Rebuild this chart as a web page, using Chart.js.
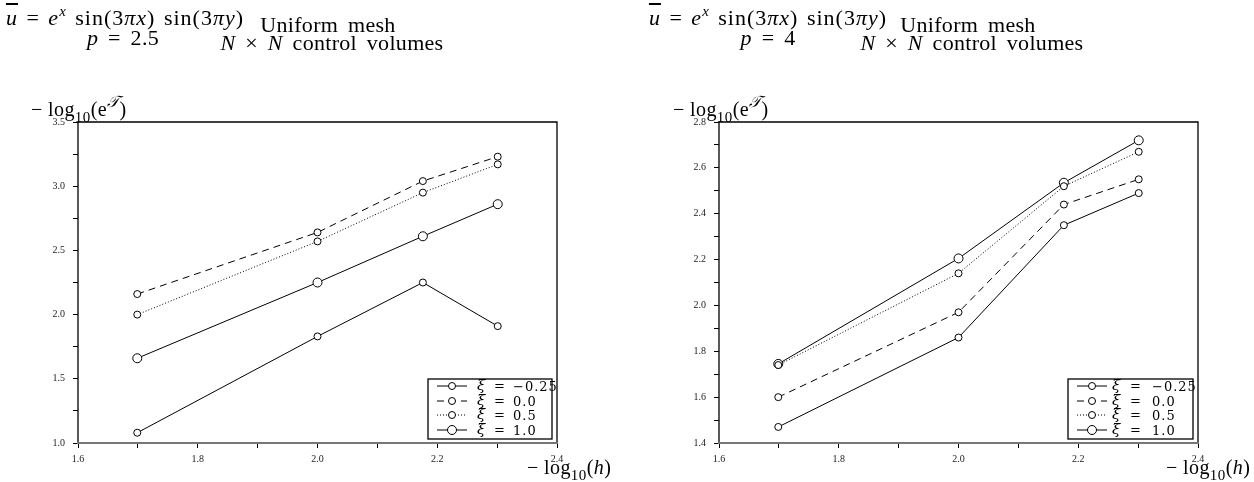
<!DOCTYPE html>
<html>
<head>
<meta charset="utf-8">
<script src="https://cdn.jsdelivr.net/npm/chart.js@4"></script>
<style>
  body { margin: 0; background: #fff; }
  #page { position: relative; width: 1254px; height: 482px; overflow: hidden; font-family: "Liberation Serif", "DejaVu Serif", serif; color: #000; }
  .panel { position: absolute; top: 0; width: 627px; height: 482px; }
  .panel canvas { position: absolute; left: 0; top: 0; }
  .t { position: absolute; font-size: 22px; line-height: 22px; white-space: nowrap; letter-spacing: 0.3px; word-spacing: 4px; }
  .f { letter-spacing: 1px; word-spacing: 2px; }
  .c { transform: translateX(-50%); }
  .ax { position: absolute; font-size: 20px; line-height: 20px; white-space: nowrap; letter-spacing: 0.4px; }
  .ax sub { font-size: 15px; line-height: 0; vertical-align: -6px; }
  .ax sup { font-size: 16px; line-height: 0; vertical-align: 9px; }
  .t sup { font-size: 15px; line-height: 0; vertical-align: 9px; }
</style>
</head>
<body>
<div id="page">
  <div class="panel" style="left:0">
    <canvas id="chart1" width="627" height="482"></canvas>
    <div class="t c f" style="left:125px; top:7px"><span style="text-decoration:overline"><i>u</i></span> = <i>e</i><sup><i>x</i></sup> sin(3<i>πx</i>) sin(3<i>πy</i>)</div>
    <div class="t c" style="left:123px; top:27px"><i>p</i> = 2.5</div>
    <div class="t c" style="left:328px; top:14px">Uniform mesh</div>
    <div class="t c" style="left:332px; top:32px"><i>N</i> × <i>N</i> control volumes</div>
    <div class="ax" style="left:31px; top:99px">− log<sub>10</sub>(e<sup><i>𝒯</i></sup>)</div>
    <div class="ax" style="left:527px; top:457px">− log<sub>10</sub>(<i>h</i>)</div>
  </div>
  <div class="panel" style="left:627px">
    <canvas id="chart2" width="627" height="482"></canvas>
    <div class="t c f" style="left:141px; top:7px"><span style="text-decoration:overline"><i>u</i></span> = <i>e</i><sup><i>x</i></sup> sin(3<i>πx</i>) sin(3<i>πy</i>)</div>
    <div class="t c" style="left:141px; top:27px"><i>p</i> = 4</div>
    <div class="t c" style="left:341px; top:14px">Uniform mesh</div>
    <div class="t c" style="left:345px; top:32px"><i>N</i> × <i>N</i> control volumes</div>
    <div class="ax" style="left:46px; top:99px">− log<sub>10</sub>(e<sup><i>𝒯</i></sup>)</div>
    <div class="ax" style="left:539px; top:457px">− log<sub>10</sub>(<i>h</i>)</div>
  </div>
</div>
<script>
// mesh sizes N = 50, 100, 150, 200  ->  -log10(h)
var xVals = [1.699, 2.0, 2.176, 2.301];
var xiSymbol = "ξ";
var xiValues = ["−0.25", "0.0", "0.5", "1.0"];

// p = 2.5
var leftM025 = [1.08, 1.83, 2.25, 1.91];
var left00 = [2.16, 2.64, 3.04, 3.23];
var left05 = [2.0, 2.57, 2.95, 3.17];
var left10 = [1.66, 2.25, 2.61, 2.86];

// p = 4
var rightM025 = [1.47, 1.86, 2.35, 2.49];
var right00 = [1.6, 1.97, 2.44, 2.55];
var right05 = [1.74, 2.14, 2.52, 2.67];
var right10 = [1.745, 2.205, 2.535, 2.72];

// axis ranges and label steps
var xRange = [1.6, 2.4];
var xLabelStep = 0.2;
var leftYRange = [1.0, 3.5];
var leftYLabelStep = 0.5;
var rightYRange = [1.4, 2.8];
var rightYLabelStep = 0.2;

var lineStyles = [
  { dash: [], radius: 3.5 },
  { dash: [7, 5], radius: 3.5 },
  { dash: [1, 2], radius: 3.5 },
  { dash: [], radius: 4.5 },
];

function isMajor(v, step) {
  return Math.abs(v / step - Math.round(v / step)) < 1e-6;
}

function toPoints(vals) {
  return xVals.map(function (x, i) {
    return { x: x, y: vals[i] };
  });
}

// box round the plot area
var framePlugin = {
  id: "frame",
  afterDatasetsDraw: function (chart) {
    var a = chart.chartArea;
    var c = chart.ctx;
    c.save();
    c.setLineDash([]);
    c.strokeStyle = "#000";
    c.lineWidth = 1.3;
    c.beginPath();
    c.moveTo(a.left, a.bottom);
    c.lineTo(a.left, a.top);
    c.lineTo(a.right, a.top);
    c.lineTo(a.right, a.bottom);
    c.stroke();
    c.strokeStyle = "#777";
    c.lineWidth = 2;
    c.beginPath();
    c.moveTo(a.left - 1, a.bottom);
    c.lineTo(a.right + 1, a.bottom);
    c.stroke();
    c.restore();
  },
};

// legend drawn inside the plot, bottom right
var legendPlugin = {
  id: "boxLegend",
  afterDraw: function (chart, args, opts) {
    var c = chart.ctx;
    c.save();
    c.fillStyle = "#fff";
    c.fillRect(opts.x0, opts.y0, opts.x1 - opts.x0, opts.y1 - opts.y0);
    c.strokeStyle = "#000";
    c.lineWidth = 1.3;
    c.setLineDash([]);
    c.strokeRect(opts.x0, opts.y0, opts.x1 - opts.x0, opts.y1 - opts.y0);
    chart.data.datasets.forEach(function (ds, i) {
      var y = opts.rows[i];
      c.strokeStyle = "#000";
      c.lineWidth = 1;
      c.setLineDash(ds.borderDash);
      c.beginPath();
      c.moveTo(opts.s0, y);
      c.lineTo(opts.s1, y);
      c.stroke();
      c.setLineDash([]);
      c.beginPath();
      c.arc((opts.s0 + opts.s1) / 2, y, ds.pointRadius, 0, Math.PI * 2);
      c.fillStyle = "#fff";
      c.fill();
      c.stroke();
      c.fillStyle = "#000";
      c.textBaseline = "alphabetic";
      c.font = "italic 15px 'DejaVu Serif'";
      c.letterSpacing = "0px";
      c.fillText(xiSymbol, opts.tx, y + 4);
      c.font = "13px 'DejaVu Serif'";
      c.fillText("=", opts.tx + opts.eq, y + 4);
      c.letterSpacing = "1px";
      c.fillText(xiValues[i], opts.tx + opts.val, y + 4.5);
    });
    c.restore();
  },
};

function makeChart(id, sets, yRange, yStep, yLabelStep, plotLeft, rightPad, legend) {
  var ctx = document.getElementById(id).getContext("2d");
  var datasets = sets.map(function (vals, i) {
    return {
      label: xiSymbol + " = " + xiValues[i],
      data: toPoints(vals),
      showLine: true,
      borderColor: "#000",
      borderWidth: 1,
      borderDash: lineStyles[i].dash,
      pointRadius: lineStyles[i].radius,
      pointBackgroundColor: "#fff",
      pointBorderColor: "#000",
      pointBorderWidth: 1,
      tension: 0,
    };
  });
  return new Chart(ctx, {
    type: "scatter",
    data: { datasets: datasets },
    options: {
      responsive: false,
      animation: false,
      layout: { autoPadding: false, padding: { top: 122, right: rightPad, left: 0, bottom: 0 } },
      plugins: {
        legend: { display: false },
        tooltip: { enabled: false },
        boxLegend: legend,
      },
      scales: {
        x: {
          type: "linear",
          min: xRange[0],
          max: xRange[1],
          afterFit: function (s) {
            s.height = 39;
          },
          border: { display: false },
          grid: { drawOnChartArea: false, tickLength: 5, color: "#000" },
          ticks: {
            stepSize: 0.1,
            autoSkip: false,
            maxRotation: 0,
            padding: 5,
            color: "#222",
            font: { family: "Liberation Serif", size: 10 },
            callback: function (v) {
              return isMajor(v, xLabelStep) ? v.toFixed(1) : "";
            },
          },
        },
        y: {
          type: "linear",
          min: yRange[0],
          max: yRange[1],
          afterFit: function (s) {
            s.width = plotLeft;
          },
          border: { display: false },
          grid: { drawOnChartArea: false, tickLength: 5, color: "#000" },
          ticks: {
            stepSize: yStep,
            autoSkip: false,
            padding: 8,
            color: "#222",
            font: { family: "Liberation Serif", size: 10 },
            callback: function (v) {
              return isMajor(v, yLabelStep) ? v.toFixed(1) : "";
            },
          },
        },
      },
    },
    plugins: [framePlugin, legendPlugin],
  });
}

makeChart("chart1", [leftM025, left00, left05, left10], leftYRange, 0.25, leftYLabelStep, 78, 70, {
  x0: 428, y0: 379, x1: 552, y1: 439,
  s0: 437, s1: 467, tx: 477, eq: 17, val: 36,
  rows: [386, 401, 415, 430],
});

makeChart("chart2", [rightM025, right00, right05, right10], rightYRange, 0.1, rightYLabelStep, 92, 56, {
  x0: 441, y0: 379, x1: 566, y1: 439,
  s0: 450, s1: 480, tx: 485, eq: 18, val: 40,
  rows: [386, 401, 415, 430],
});
</script>
</body>
</html>
